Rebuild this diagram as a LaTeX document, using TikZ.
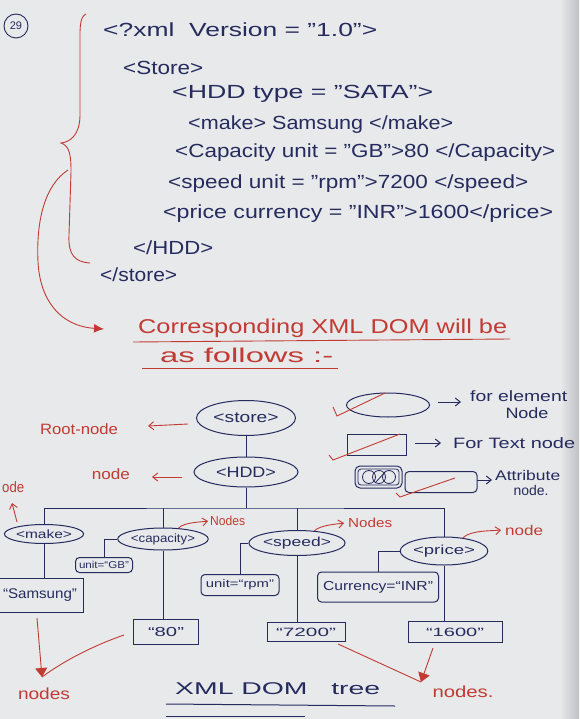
\documentclass[tikz,border=0pt]{standalone}
\usepackage{fontspec}
\setmainfont{Liberation Sans}
\usepackage{graphicx}
\usetikzlibrary{shapes.geometric,arrows.meta,calc}
\definecolor{ink}{HTML}{262B5E}
\definecolor{rink}{HTML}{C23B33}
\definecolor{paper}{HTML}{E7E9EB}
\definecolor{paperedge}{HTML}{BFC0C4}
\newcommand{\hw}[2]{\resizebox{#1}{\height}{#2}}
\newcommand{\fs}[1]{\fontsize{#1}{#1}\selectfont}
\begin{document}
\begin{tikzpicture}[x=1pt,y=-1pt,
  txt/.style={inner sep=0pt, text=ink, anchor=west, font=\fs{19}},
  rtxt/.style={inner sep=0pt, text=rink, font=\fs{15}},
  elem/.style={ellipse, draw=ink, line width=1pt, inner sep=0pt, text=ink},
  tbox/.style={rectangle, draw=ink, line width=1pt, inner sep=0pt, text=ink},
  abox/.style={rectangle, rounded corners=4pt, draw=ink, line width=1pt, inner sep=0pt, text=ink},
  conn/.style={draw=ink, line width=1pt},
  carrow/.style={conn, -{Straight Barb[length=5pt,width=8pt]}},
  rline/.style={draw=rink, line width=0.9pt},
  rarrow/.style={rline, -{Straight Barb[length=5pt,width=8pt]}},
  rtri/.style={rline, -{Triangle[length=9pt,width=12pt]}},
]
\useasboundingbox (0,0) rectangle (579,719);
\fill[paper] (0,0) rectangle (579,719);
\shade[left color=paper, right color=paperedge] (560,0) rectangle (579,719);
\clip (0,0) rectangle (579,719);

% ---- number
\node[circle, draw=ink, line width=0.9pt, minimum size=24pt, inner sep=0pt, text=ink, font=\fs{11}] (num) at (16,26) {29};

% ---- XML code
\node[txt] (l1) at (103,30) {\hw{274pt}{<?xml\ \ Version = "1.0">}};
\node[txt] (l2) at (123,68) {\hw{80pt}{<Store>}};
\node[txt] (l3) at (172,94) {\hw{261pt}{<HDD type = "SATA">}};
\node[txt] (l4) at (188,125) {\hw{265pt}{<make> Samsung </make>}};
\node[txt] (l5) at (175,153) {\hw{380pt}{<Capacity unit = "GB">80 </Capacity>}};
\node[txt] (l6) at (168,184) {\hw{360pt}{<speed unit = "rpm">7200 </speed>}};
\node[txt] (l7) at (163,214) {\hw{390pt}{<price currency = "INR">1600</price>}};
\node[txt] (l8) at (133,248) {\hw{80pt}{</HDD>}};
\node[txt] (l9) at (100,275) {\hw{77pt}{</store>}};

% ---- red brace and arrow
\draw[rline] (86,14) .. controls (79,17) and (80,30) .. (80,50) -- (80,115)
  .. controls (80,134) and (71,142) .. (61,143)
  .. controls (70,146) and (71,156) .. (71,172) -- (69,235)
  .. controls (68,255) and (75,262) .. (90,263);
\coordinate (bs) at (68,170);
\coordinate (bt) at (104,329);
\draw[rline, -{Latex[length=10pt,width=9pt]}] (bs) .. controls (45,185) and (36,220) .. (38,262)
  .. controls (40,300) and (60,326) .. (bt);

% ---- heading
\node[rtxt, anchor=west, font=\fs{20}] (h1) at (138,328) {\hw{369pt}{Corresponding XML DOM will be}};
\node[rtxt, anchor=west, font=\fs{20}] (h2) at (160,355) {\hw{173pt}{as follows :-}};
\draw[rline] (133,342) -- (510,339);
\draw[rline] (142,368) -- (338,368);

% ---- legend
\node[elem, minimum width=83pt, minimum height=24pt] (legE) at (388,405) {};
\node[tbox, minimum width=59pt, minimum height=21pt] (legT) at (377,445) {};
\node[abox, minimum width=72pt, minimum height=21pt] (legA) at (441,482) {};
\draw[ink, line width=1pt, rounded corners=5pt] (355,466) rectangle (402,488);
\draw[ink, line width=0.8pt, rounded corners=3pt] (358,469) rectangle (399,485);
\draw[ink, line width=0.8pt] (369,477) circle (6.5) (379,477) circle (6.5) (389,477) circle (6.5);
\draw[ink, line width=0.8pt] (375,483) -- (386,471);
\draw[rline] (333,407) -- (337,416) -- (385,393);
\draw[rline] (329,455) -- (333,460) -- (400,434);
\draw[rline] (396,493) -- (400,497) -- (455,478);
\node[txt, font=\fs{15}] (le1) at (470,396) {\hw{97pt}{for element}};
\node[inner sep=0pt, text=ink, font=\fs{15}] (le2) at (527,413) {\hw{43pt}{Node}};
\node[txt, font=\fs{15}] (lt) at (453,443) {\hw{122pt}{For Text node}};
\node[txt, font=\fs{14}] (la1) at (495,475) {\hw{65pt}{Attribute}};
\node[inner sep=0pt, text=ink, font=\fs{14}] (la2) at (531,490) {\hw{35pt}{node.}};
\coordinate (ea) at (438,402); \coordinate (eb) at (461,402);
\coordinate (ta) at (415,443); \coordinate (tb) at (441,443);
\coordinate (aa) at (477,480); \coordinate (ab) at (492,480);
\draw[carrow] (ea) -- (eb);
\draw[carrow] (ta) -- (tb);
\draw[carrow] (aa) -- (ab);

% ---- tree
\node[elem, minimum width=99pt, minimum height=35pt, font=\fs{15}] (store) at (246,418) {\hw{65pt}{<store>}};
\node[elem, minimum width=104pt, minimum height=30pt, font=\fs{15}] (hdd) at (246,472) {\hw{60pt}{<HDD>}};
\node[elem, minimum width=66pt, minimum height=19pt, font=\fs{12}] (make) at (44,534) {\hw{56pt}{<make>}};
\node[elem, minimum width=74pt, minimum height=22pt, font=\fs{12}] (cap) at (163,539) {\hw{64pt}{<capacity>}};
\node[elem, minimum width=83pt, minimum height=25pt, font=\fs{13}] (speed) at (297,543) {\hw{68pt}{<speed>}};
\node[elem, minimum width=82pt, minimum height=28pt, font=\fs{13}] (price) at (444,551) {\hw{62pt}{<price>}};
\node[abox, minimum width=57pt, minimum height=15pt, font=\fs{10}] (ugb) at (104,565) {\hw{50pt}{unit=“GB”}};
\node[abox, minimum width=78pt, minimum height=21pt, font=\fs{11}] (urpm) at (240,585) {\hw{68pt}{unit=“rpm”}};
\node[abox, minimum width=121pt, minimum height=30pt, font=\fs{13}] (cur) at (378,587) {\hw{110pt}{Currency=“INR”}};
\node[tbox, minimum width=86pt, minimum height=34pt, font=\fs{14}] (sam) at (40,595) {\hw{74pt}{“Samsung”}};
\node[tbox, minimum width=65pt, minimum height=25pt, font=\fs{13}] (t80) at (166,632) {\hw{36pt}{“80”}};
\node[tbox, minimum width=78pt, minimum height=19pt, font=\fs{12}] (t7200) at (306,632) {\hw{60pt}{“7200”}};
\node[tbox, minimum width=94pt, minimum height=21pt, font=\fs{12}] (t1600) at (455,632) {\hw{58pt}{“1600”}};

\coordinate (bar) at (246,508);
\draw[conn] (store) -- (hdd);
\draw[conn] (hdd) -- (bar);
\draw[conn] (make.north) |- (bar) -| (price.north);
\draw[conn] (cap.north) -- (cap.north |- bar);
\draw[conn] (speed.north) -- (speed.north |- bar);
\draw[conn] (cap.west) -| (ugb.north);
\draw[conn] (speed.west) -| (urpm.north);
\draw[conn] (price.west) -| (cur.north);
\draw[conn] (make.south) -- (make.south |- sam.north);
\draw[conn] (cap.south) -- (cap.south |- t80.north);
\draw[conn] (speed.south) -- (speed.south |- t7200.north);
\draw[conn] (price.south) -- (price.south |- t1600.north);

% ---- red annotations
\node[rtxt] (root) at (79,429) {\hw{78pt}{Root-node}};
\node[rtxt] (nd1) at (111,474) {\hw{38pt}{node}};
\node[rtxt, anchor=west] (nd0) at (2,487) {\hw{22pt}{ode}};
\coordinate (ra1) at (188,424); \coordinate (ra2) at (148,426);
\coordinate (na1) at (182,477); \coordinate (na2) at (152,477);
\coordinate (ua1) at (17,522); \coordinate (ua2) at (12,503);
\draw[rarrow] (ra1) -- (ra2);
\draw[rarrow] (na1) -- (na2);
\draw[rarrow] (ua1) -- (ua2);

\node[rtxt, anchor=west, font=\fs{13}] (nA) at (210,521) {\hw{35pt}{Nodes}};
\node[rtxt, anchor=west, font=\fs{13}] (nB) at (348,523) {\hw{44pt}{Nodes}};
\node[rtxt, anchor=west, font=\fs{14}] (nC) at (505,530) {\hw{38pt}{node}};
\draw[rarrow] (cap.35) .. controls +(5,-6) and +(-6,1) .. ([xshift=-2pt]nA.west);
\draw[rarrow] (speed.35) .. controls +(6,-6) and +(-6,1) .. ([xshift=-4pt]nB.west);
\draw[rarrow] (price.35) .. controls +(8,-8) and +(-8,1) .. ([xshift=-4pt]nC.west);

\node[rtxt, font=\fs{16}] (ndsL) at (44,694) {\hw{52pt}{nodes}};
\node[rtxt, font=\fs{16}] (ndsR) at (463,692) {\hw{61pt}{nodes.}};
\coordinate (tipL) at (42,677); \coordinate (tipR) at (421,682);
\coordinate (sL) at (37,618);
\coordinate (c80) at (124,635);
\coordinate (c7200) at (338,644);
\coordinate (c1600) at (433,648);
\draw[rtri] (sL) -- (tipL);
\draw[rline] (c80) .. controls (95,645) and (65,660) .. (tipL);
\draw[rline] (c7200) -- (tipR);
\draw[rtri] (c1600) -- (tipR);

% ---- title
\node[txt, font=\fs{17}] (title) at (175,689) {\hw{205pt}{XML DOM\ \ \ tree}};
\draw[conn] (166,704) -- (395,706);
\draw[conn] (166,716) -- (305,716);
\end{tikzpicture}
\end{document}
